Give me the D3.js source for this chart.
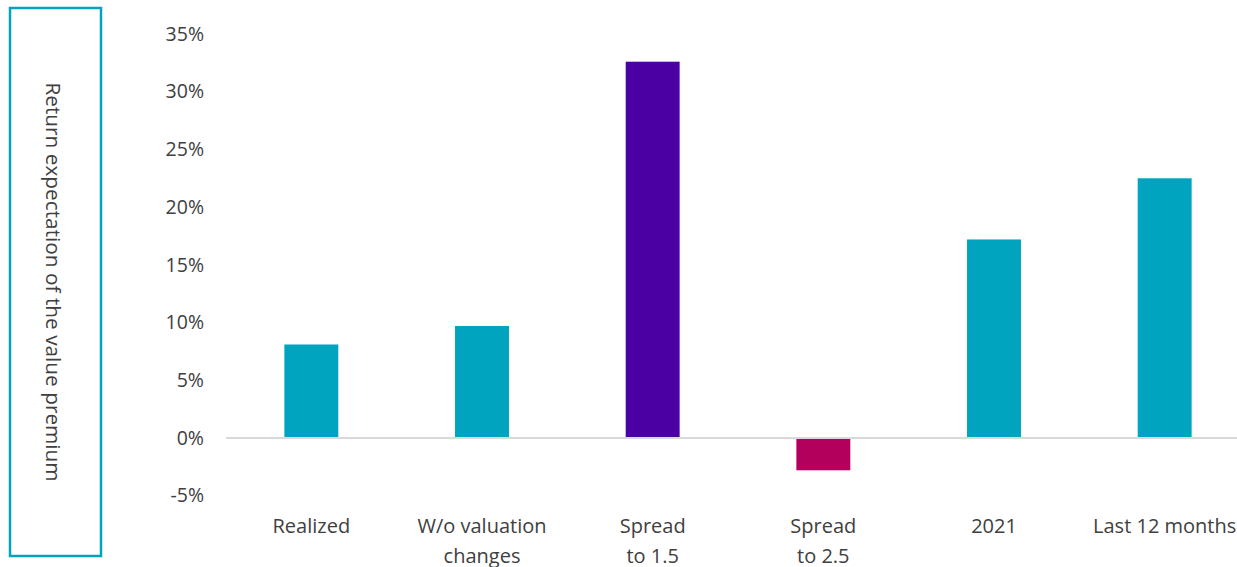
<!DOCTYPE html>
<html>
<head>
<meta charset="utf-8">
<script src="https://cdn.jsdelivr.net/npm/d3@7"></script>
<style>
  html, body { margin: 0; padding: 0; background: #fff; }
  svg { display: block; font-family: "Open Sans", "Segoe UI", sans-serif; }
</style>
</head>
<body>
<svg id="chart" width="1237" height="567"></svg>
<script>
// Scenario labels (line-broken as shown under the axis)
const categories = [
  ["Realized"],
  ["W/o valuation", "changes"],
  ["Spread", "to 1.5"],
  ["Spread", "to 2.5"],
  ["2021"],
  ["Last 12 months"]
];
// Expected value premium, in percent
const values = [8.1, 9.7, 32.6, -2.8, 17.2, 22.5];
const barColors = ["#00a4bf", "#00a4bf", "#4a00a3", "#b4005d", "#00a4bf", "#00a4bf"];
const yTicks = [-5, 0, 5, 10, 15, 20, 25, 30, 35];
const yTitle = "Return expectation of the value premium";

const svg = d3.select("#chart");
const textColor = "#404040";
const fontSize = "20px";
const fontWeight = 400;

const x = d3.scaleBand()
  .domain(d3.range(categories.length))
  .range([226, 1250])
  .padding(0);

const y = d3.scaleLinear()
  .domain([-5, 35])
  .range([495.7, 34]);

const barW = x.bandwidth() * 0.316;

// Y axis tick labels (no axis line)
const yAxis = d3.axisLeft(y)
  .tickValues(yTicks)
  .tickFormat(d => d + "%")
  .tickSize(0)
  .tickPadding(0);

const yG = svg.append("g")
  .attr("transform", "translate(204,0)")
  .call(yAxis);
yG.select(".domain").remove();
yG.selectAll("text")
  .attr("fill", textColor)
  .style("font-size", "19.5px")
  .style("font-weight", fontWeight)
  .style("font-family", "'Open Sans', sans-serif");

// Bars
svg.append("g")
  .selectAll("rect")
  .data(values)
  .join("rect")
  .attr("x", (d, i) => x(i) + x.bandwidth() / 2 - barW / 2)
  .attr("y", d => d >= 0 ? y(d) : y(0) + 1)
  .attr("width", barW)
  .attr("height", d => d >= 0 ? y(0) - y(d) - 1 : y(d) - y(0) - 1)
  .attr("fill", (d, i) => barColors[i]);

// Zero baseline
svg.append("line")
  .attr("x1", 226).attr("x2", 1237)
  .attr("y1", y(0)).attr("y2", y(0))
  .attr("stroke", "#d9d9d9")
  .attr("stroke-width", 2);

// Category labels
const catG = svg.append("g");
categories.forEach((lines, i) => {
  const t = catG.append("text")
    .attr("x", x(i) + x.bandwidth() / 2)
    .attr("y", 533)
    .attr("text-anchor", "middle")
    .attr("fill", textColor)
    .style("font-size", fontSize)
    .style("font-weight", fontWeight);
  lines.forEach((ln, k) => {
    t.append("tspan")
      .attr("x", x(i) + x.bandwidth() / 2)
      .attr("dy", k === 0 ? 0 : 30)
      .text(ln);
  });
});

// Framed vertical axis title
svg.append("rect")
  .attr("x", 10).attr("y", 8)
  .attr("width", 91).attr("height", 548)
  .attr("fill", "none")
  .attr("stroke", "#00a4bf")
  .attr("stroke-width", 2.5);

svg.append("text")
  .attr("transform", "translate(46,282) rotate(90)")
  .attr("text-anchor", "middle")
  .attr("fill", textColor)
  .style("font-size", "20.8px")
  .style("font-weight", fontWeight)
  .text(yTitle);
</script>
</body>
</html>
